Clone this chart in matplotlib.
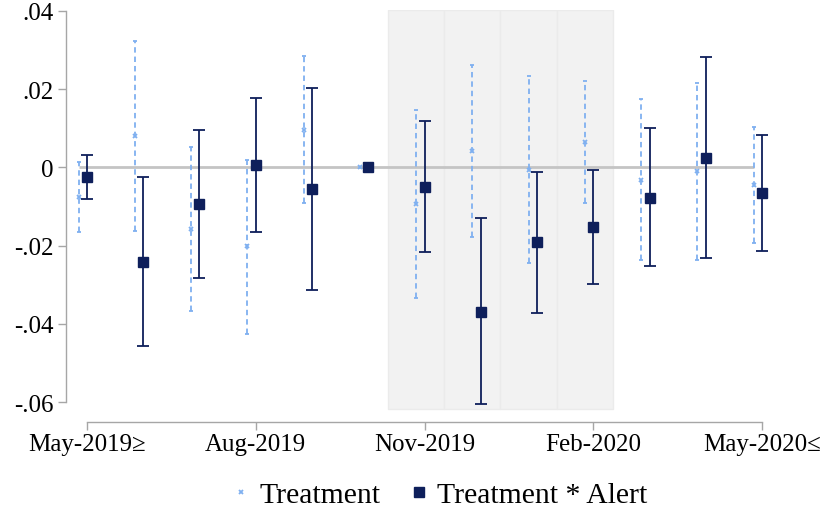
import numpy as np
import matplotlib
matplotlib.use("Agg")
import matplotlib.pyplot as plt
from matplotlib.lines import Line2D

# months relative to the alert, Oct-2019 is the omitted reference month
months = ["May-2019", "Jun-2019", "Jul-2019", "Aug-2019", "Sep-2019", "Oct-2019",
          "Nov-2019", "Dec-2019", "Jan-2020", "Feb-2020", "Mar-2020", "Apr-2020", "May-2020"]
tick_idx = [0, 3, 6, 9, 12]
tick_labels = ["May-2019≥", "Aug-2019", "Nov-2019", "Feb-2020", "May-2020≤"]

# Treatment coefficients and 95% CI
treat_coef = [-0.0076, 0.0080, -0.0157, -0.0202, 0.0095, 0.0,
              -0.0093, 0.0042, -0.0006, 0.0065, -0.0031, -0.0009, -0.0046]
treat_lo = [-0.0164, -0.0163, -0.0367, -0.0425, -0.0090, np.nan,
            -0.0334, -0.0177, -0.0244, -0.0090, -0.0238, -0.0237, -0.0193]
treat_hi = [0.0015, 0.0322, 0.0053, 0.0020, 0.0284, np.nan,
            0.0148, 0.0261, 0.0234, 0.0222, 0.0176, 0.0217, 0.0103]

# Treatment * Alert coefficients and 95% CI
alert_coef = [-0.0025, -0.0241, -0.0093, 0.0006, -0.0055, 0.0,
              -0.0049, -0.0369, -0.0190, -0.0152, -0.0078, 0.0025, -0.0065]
alert_lo = [-0.0080, -0.0457, -0.0283, -0.0166, -0.0314, np.nan,
            -0.0217, -0.0606, -0.0372, -0.0299, -0.0252, -0.0232, -0.0215]
alert_hi = [0.0033, -0.0025, 0.0095, 0.0178, 0.0204, np.nan,
            0.0118, -0.0130, -0.0011, -0.0006, 0.0100, 0.0282, 0.0084]

# alert window (shaded months)
shade_months = [6, 7, 8, 9]

LIGHT = "#7fb0f0"
NAVY = "#0e1f5b"
SPINE = "#a6a6a6"

plt.rcParams['font.family'] = ['Liberation Serif', 'DejaVu Serif']

fig = plt.figure(figsize=(8.22, 5.10), dpi=100)
ax = fig.add_axes([66 / 822, 1 - 423 / 510, 717 / 822, (423 - 10.8) / 510])

x = np.arange(len(months))
xt = x - 0.15

# shaded alert period
for m in shade_months:
    ax.bar(m - 0.65, 0.0403 + 0.0618, bottom=-0.0618, width=1.0, align='edge',
           color="#f2f2f2", edgecolor="#ebebeb", linewidth=1.0, zorder=0)

# zero line
ax.hlines(0, xt[0], xt[-1], color="#c4c4c4", linewidth=2.0, zorder=1)

tc = np.array(treat_coef)
tl = np.array(treat_lo)
th = np.array(treat_hi)
ok = ~np.isnan(tl)
eb = ax.errorbar(xt[ok], tc[ok], yerr=[tc[ok] - tl[ok], th[ok] - tc[ok]], fmt='none',
                 ecolor=LIGHT, elinewidth=1.3, capsize=1.5, capthick=1.3, zorder=2)
eb[2][0].set_linestyle((0, (3, 2.2)))
ax.plot(xt, tc, linestyle='none', marker='x', color=LIGHT, markersize=3.5,
        markeredgewidth=1.3, zorder=3)

ac = np.array(alert_coef)
al = np.array(alert_lo)
ah = np.array(alert_hi)
ok = ~np.isnan(al)
ax.errorbar(x[ok], ac[ok], yerr=[ac[ok] - al[ok], ah[ok] - ac[ok]], fmt='none',
            ecolor=NAVY, elinewidth=1.3, capsize=4, capthick=1.3, zorder=4)
ax.plot(x, ac, linestyle='none', marker='s', color=NAVY, markersize=7, zorder=5)

ax.set_xlim(-0.373, 12.373)
ax.set_ylim(-0.0651, 0.0403)

ax.set_xticks(tick_idx)
ax.set_xticklabels(tick_labels)
ax.set_yticks([-0.06, -0.04, -0.02, 0, 0.02, 0.04])
ax.set_yticklabels(["-.06", "-.04", "-.02", "0", ".02", ".04"])

for s in ["top", "right"]:
    ax.spines[s].set_visible(False)
ax.spines["left"].set_bounds(-0.06, 0.04)
ax.spines["bottom"].set_bounds(0, 12)
for s in ["left", "bottom"]:
    ax.spines[s].set_color(SPINE)
    ax.spines[s].set_linewidth(1.0)
ax.tick_params(axis='both', colors=SPINE, labelcolor='black', labelsize=18,
               length=6, width=1.0)
ax.tick_params(axis='y', pad=3)
ax.tick_params(axis='x', pad=2)

handles = [
    Line2D([], [], linestyle='none', marker='x', color=LIGHT, markersize=3.5, markeredgewidth=1.3),
    Line2D([], [], linestyle='none', marker='s', color=NAVY, markersize=7),
]
fig.legend(handles, ["Treatment", "Treatment * Alert"], loc='center',
           bbox_to_anchor=(0.535, 0.028), ncol=2, frameon=False, fontsize=21.4,
           handlelength=0.6, handletextpad=0.3, columnspacing=1.0, borderpad=0)

fig.savefig("out.png", dpi=100)
